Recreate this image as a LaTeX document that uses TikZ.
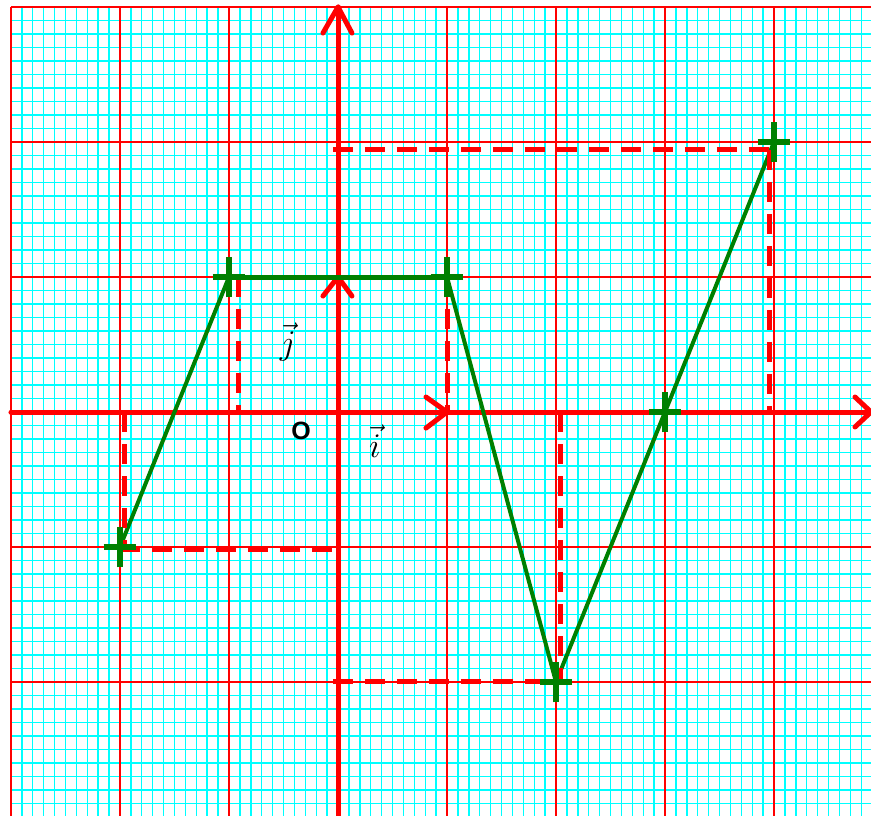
\documentclass[tikz,border=0pt]{standalone}
\usepackage{fontspec}
\usetikzlibrary{calc}
\newfontfamily\labelsans{Liberation Sans}
\definecolor{gridcyan}{RGB}{0,255,255}
\definecolor{gridred}{RGB}{255,0,0}
\definecolor{ptgreen}{RGB}{0,128,0}
\begin{document}
\begin{tikzpicture}[x=54.5pt,y=67.5pt,
  minorgrid/.style={gridcyan,line width=0.7pt},
  majorgrid/.style={gridred,line width=0.6pt},
  axisline/.style={gridred,line width=2.5pt,line cap=round,line join=round},
  greenline/.style={draw=ptgreen,line width=2pt},
  crossmark/.style={draw=ptgreen,line width=3pt},
  dashline/.style={gridred,line width=2.5pt,dash pattern=on 10pt off 6pt}]
\useasboundingbox (-3.1009,-2.9852) rectangle (4.8899,3.0519);
\clip (-3.1009,-2.9852) rectangle (4.8899,3.0519);
% grid
\foreach \i in {-30,...,49} {
  \pgfmathtruncatemacro{\r}{mod(abs(\i),10)}
  \ifnum\r=0\relax\else \draw[minorgrid] (\i/10,-3) -- (\i/10,3);\fi
}
\foreach \j in {-30,...,30} {
  \pgfmathtruncatemacro{\r}{mod(abs(\j),10)}
  \ifnum\r=0\relax\else \draw[minorgrid] (-3,\j/10) -- (4.9,\j/10);\fi
}
\foreach \i in {-3,...,4} \draw[majorgrid] (\i,-3) -- (\i,3);
\foreach \j in {-3,...,3} \draw[majorgrid] (-3,\j) -- (4.9,\j);
% points
\coordinate (O) at (0,0);
\coordinate (A) at (-2,-1);
\coordinate (B) at (-1,1);
\coordinate (C) at (1,1);
\coordinate (D) at (2,-2);
\coordinate (E) at (3,0);
\coordinate (F) at (4,2);
\coordinate (I) at (1,0);
\coordinate (J) at (0,1);
\coordinate (xend) at (4.89,0);
\coordinate (xstart) at (-3,0);
\coordinate (ytop) at (0,3);
\coordinate (ybot) at (0,-3);
% axes
\draw[axisline] (xstart) -- (xend);
\draw[axisline] (ybot) -- (ytop);
\draw[axisline] ($(xend)+(-0.147,0.111)$) -- (xend) -- ($(xend)+(-0.147,-0.111)$);
\draw[axisline] ($(ytop)+(-0.138,-0.193)$) -- (ytop) -- ($(ytop)+(0.128,-0.193)$);
% vectors
\draw[axisline] (O) -- (I);
\draw[axisline] (O) -- (J);
\draw[axisline] ($(I)+(-0.193,0.111)$) -- (I) -- ($(I)+(-0.193,-0.119)$);
\draw[axisline] ($(J)+(-0.138,-0.141)$) -- (J) -- ($(J)+(0.128,-0.141)$);
% green polyline
\draw[greenline] (A) -- (B);
\draw[greenline,line width=2.5pt] (B) -- (C);
\draw[greenline] (C) -- (D) -- (E) -- (F);
% dashed projections
\draw[dashline] (-1.963,0) -- (-1.963,-1);
\draw[dashline] (-2,-1.015) -- (-0.055,-1.015);
\draw[dashline] (-0.917,1) -- (-0.917,0);
\draw[dashline] (1,1) -- (1,0);
\draw[dashline] (2.037,0) -- (2.037,-2);
\draw[dashline] (-0.046,-1.993) -- (2,-1.993);
\draw[dashline] (-0.046,1.941) -- (3.97,1.941);
\draw[dashline] (3.963,1.941) -- (3.963,0);
% crosses
\foreach \p in {A,B,C,D,E,F}{
  \draw[crossmark] ($(\p)+(-0.15,0)$) -- ($(\p)+(0.15,0)$);
  \draw[crossmark] ($(\p)+(0,-0.15)$) -- ($(\p)+(0,0.15)$);
}
% labels
\node (Olab) at (-0.339,-0.141) {\labelsans\bfseries\fontsize{12.5}{14}\selectfont O};
\node (ilab) at (0.339,-0.215) {\fontsize{19}{21}\selectfont $\vec{i}$};
\node (jlab) at (-0.459,0.519) {\fontsize{19}{21}\selectfont $\vec{j}$};
\end{tikzpicture}
\end{document}
